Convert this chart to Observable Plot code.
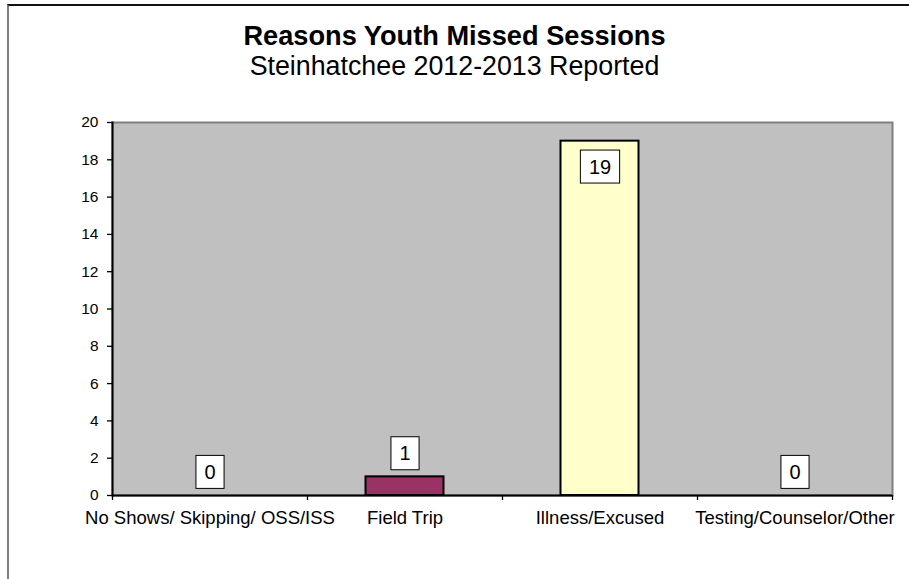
<!DOCTYPE html>
<html>
<head>
<meta charset="utf-8">
<script src="https://cdn.jsdelivr.net/npm/d3@7"></script>
<script src="https://cdn.jsdelivr.net/npm/@observablehq/plot@0.6"></script>
<style>
  body { margin: 0; background: #fff; font-family: "Liberation Sans", Arial, sans-serif; }
  #wrap { position: relative; width: 909px; height: 579px; overflow: hidden; background: #fff; }
  #border { position: absolute; left: 7px; top: 4px; width: 940px; height: 620px; box-sizing: border-box;
            border-top: 2px solid #111; border-left: 2px solid #808080; pointer-events: none; }
  .head { position: absolute; left: 0; width: 909px; text-align: center; line-height: 31px; color: #000; white-space: nowrap; }
  #title { top: 20px; font-weight: bold; font-size: 27.2px; }
  #subtitle { top: 51px; font-size: 26.8px; }
  #chart { position: absolute; left: 0; top: 100px; }
</style>
</head>
<body>
<div id="wrap">
  <div id="border"></div>
  <div class="head" id="title">Reasons Youth Missed Sessions</div>
  <div class="head" id="subtitle">Steinhatchee 2012-2013 Reported</div>
  <div id="chart"></div>
</div>
<script>
const categories = ["No Shows/ Skipping/ OSS/ISS", "Field Trip", "Illness/Excused", "Testing/Counselor/Other"];
const values = [0, 1, 19, 0];
const barColors = ["#9999FF", "#993366", "#FFFFCC", "#CCFFFF"];
const yTicks = [0, 2, 4, 6, 8, 10, 12, 14, 16, 18, 20];

const data = categories.map((c, i) => ({cat: c, value: values[i], color: barColors[i]}));

const W = 909, H = 479;
const mL = 112, mR = 17, mT = 22, mB = 84;
const frameH = H - mT - mB;
const step = (W - mL - mR) / categories.length;
const yMax = 20;
const insideLimit = yMax - 2.5;

const chart = Plot.plot({
  width: W,
  height: H,
  marginLeft: mL,
  marginRight: mR,
  marginTop: mT,
  marginBottom: mB,
  style: {fontFamily: "Liberation Sans, Arial, sans-serif", color: "#000", background: "transparent", overflow: "visible"},
  x: {domain: categories, padding: 0, label: null},
  y: {domain: [0, yMax], label: null},
  color: {type: "identity"},
  marks: [
    Plot.frame({fill: "#C0C0C0"}),
    Plot.frame({stroke: "#808080", strokeWidth: 2}),
    Plot.barY(data, {x: "cat", y: "value", fill: d => d.color, stroke: "#000", strokeWidth: 2, insetLeft: 58.5, insetRight: 58.5}),
    Plot.frame({anchor: "left", stroke: "#000", strokeWidth: 2}),
    Plot.ruleY([0], {stroke: "#000", strokeWidth: 2}),
    Plot.axisY({ticks: yTicks, tickSize: 5, tickPadding: 9, fontSize: 15.5, stroke: "#000", strokeWidth: 1.3}),
    Plot.axisX({tickSize: 0, tickPadding: 15.5, fontSize: 18.5}),
    Plot.ruleX(categories, {x: d => d, dx: -step / 2, insetTop: frameH, insetBottom: -5, stroke: "#000", strokeWidth: 1.3}),
    Plot.ruleX(categories.slice(-1), {x: d => d, dx: step / 2, insetTop: frameH, insetBottom: -5, stroke: "#000", strokeWidth: 1.3}),
    Plot.text(data.filter(d => d.value <= insideLimit), {x: "cat", y: "value", text: d => String(d.value), dy: -23, fontSize: 20, fill: "#000", className: "value-label"}),
    Plot.text(data.filter(d => d.value > insideLimit), {x: "cat", y: "value", text: d => String(d.value), dy: 26, fontSize: 20, fill: "#000", className: "value-label"})
  ]
});

document.getElementById("chart").append(chart);

// white boxes behind the value labels
d3.select(chart).selectAll('.value-label text').each(function() {
  const b = this.getBBox();
  const cy = b.y + b.height / 2;
  const bw = b.width + 17, bh = 33;
  const r = document.createElementNS("http://www.w3.org/2000/svg", "rect");
  r.setAttribute("x", b.x + b.width / 2 - bw / 2);
  r.setAttribute("y", cy - bh / 2);
  r.setAttribute("width", bw);
  r.setAttribute("height", bh);
  r.setAttribute("fill", "#fff");
  r.setAttribute("stroke", "#000");
  r.setAttribute("stroke-width", "1");
  const t = this.getAttribute("transform");
  if (t) r.setAttribute("transform", t);
  this.parentNode.insertBefore(r, this);
});
</script>
</body>
</html>
